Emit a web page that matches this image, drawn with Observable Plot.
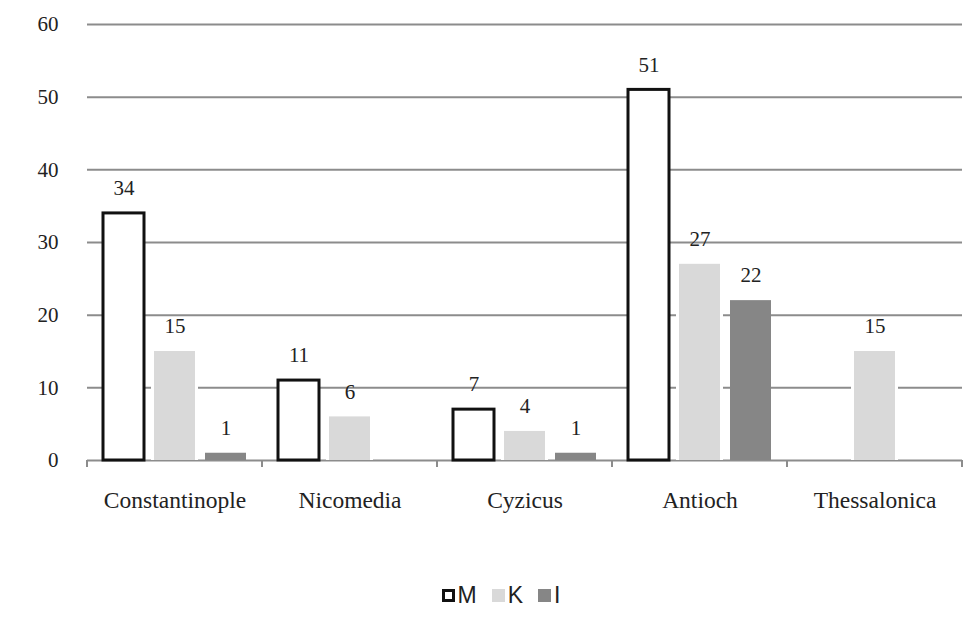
<!DOCTYPE html>
<html>
<head>
<meta charset="utf-8">
<script src="https://cdn.jsdelivr.net/npm/d3@7"></script>
<script src="https://cdn.jsdelivr.net/npm/@observablehq/plot@0.6"></script>
<style>
  html, body { margin: 0; padding: 0; background: #fff; }
  #chart { width: 977px; }
  .legend { display: flex; justify-content: center; align-items: center; padding-top: 42px; padding-left: 40px;
            font-family: "Liberation Sans", Arial, sans-serif; font-size: 23px; color: #222; line-height: 26px; }
  .legend .item { display: flex; align-items: center; margin-right: 15px; }
  .legend .sw { display: inline-block; width: 13px; height: 13px; margin-right: 3px; box-sizing: border-box; }
</style>
</head>
<body>
<div id="chart"></div>
<script>
const categories = ["Constantinople", "Nicomedia", "Cyzicus", "Antioch", "Thessalonica"];
const seriesNames = ["M", "K", "I"];
const valuesM = [34, 11, 7, 51, null];
const valuesK = [15, 6, 4, 27, 15];
const valuesI = [1, null, 1, 22, null];
const yTicks = [0, 10, 20, 30, 40, 50, 60];

const seriesValues = {M: valuesM, K: valuesK, I: valuesI};
const rows = [];
seriesNames.forEach(s => categories.forEach((c, i) => {
  const v = seriesValues[s][i];
  if (v != null) rows.push({category: c, series: s, value: v});
}));
const of = s => rows.filter(d => d.series === s);

const grid = "#8c8c8c";
const colors = {M: "#ffffff", K: "#d9d9d9", I: "#868686"};

const plot = Plot.plot({
  width: 977,
  height: 540,
  marginTop: 24,
  marginBottom: 80,
  marginLeft: 86,
  marginRight: 14,
  style: {fontFamily: "'Liberation Serif', 'DejaVu Serif', serif", fontSize: "21px", color: "#222", background: "#fff"},
  fx: {domain: categories, padding: 0, label: null},
  x: {domain: seriesNames, paddingInner: 10 / 52, paddingOuter: 15 / 52, axis: null},
  y: {domain: [0, 60], label: null},
  marks: [
    Plot.gridY(yTicks, {stroke: grid, strokeOpacity: 1, strokeWidth: 2}),
    Plot.axisY(yTicks, {anchor: "left", tickSize: 0, tickPadding: 29, label: null, fontSize: 21}),
    Plot.axisFx({anchor: "bottom", tickSize: 0, tickPadding: 31, label: null, fontSize: 23.5}),
    Plot.barY(of("K"), {fx: "category", x: "series", y: "value", fill: "#fff", insetLeft: -3, insetRight: -3}),
    Plot.barY(of("M"), {fx: "category", x: "series", y: "value", fill: colors.M, stroke: "#111", strokeWidth: 3}),
    Plot.barY(of("K"), {fx: "category", x: "series", y: "value", fill: colors.K}),
    Plot.barY(of("I"), {fx: "category", x: "series", y: "value", fill: colors.I}),
    Plot.text(rows, {fx: "category", x: "series", y: "value", text: d => String(d.value), dy: -25, fontSize: 21, fill: "#222"})
  ]
});

// group-boundary tick marks under the baseline, positioned with Plot's own fx and y scales
const fx = plot.scale("fx");
const ys = plot.scale("y");
const y0 = ys.apply(0);
const edges = categories.map(c => fx.apply(c)).concat([fx.apply(categories[categories.length - 1]) + fx.bandwidth]);
d3.select(plot).append("g")
  .selectAll("line").data(edges).join("line")
  .attr("x1", d => d).attr("x2", d => d)
  .attr("y1", y0).attr("y2", y0 + 7)
  .attr("stroke", grid).attr("stroke-width", 2);

const chart = document.getElementById("chart");
chart.appendChild(plot);

// legend
const legend = document.createElement("div");
legend.className = "legend";
seriesNames.forEach(s => {
  const item = document.createElement("span");
  item.className = "item";
  const sw = document.createElement("span");
  sw.className = "sw";
  if (s === "M") { sw.style.background = "#fff"; sw.style.border = "3px solid #111"; }
  else { sw.style.background = colors[s]; }
  const t = document.createElement("span");
  t.textContent = s;
  item.appendChild(sw); item.appendChild(t);
  legend.appendChild(item);
});
chart.appendChild(legend);
</script>
</body>
</html>
